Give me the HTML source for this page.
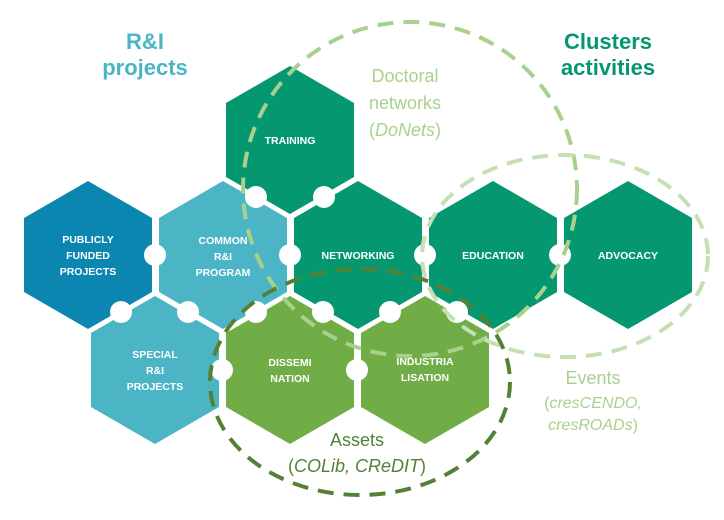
<!DOCTYPE html>
<html><head><meta charset="utf-8"><style>
html,body{margin:0;padding:0;background:#fff;}
svg{display:block;}
text{font-family:"Liberation Sans",sans-serif;}
.h{font-size:10.5px;font-weight:bold;fill:#fff;text-anchor:middle;}
</style></head><body>
<svg width="724" height="520" viewBox="0 0 724 520" xmlns="http://www.w3.org/2000/svg">
<defs>
<polygon id="hx" points="0,-74 64,-37 64,37 0,74 -64,37 -64,-37"/>
</defs>
<g>
<use href="#hx" x="290" y="140" fill="#05976f"/>
<use href="#hx" x="88" y="255" fill="#0b86b0"/>
<use href="#hx" x="223" y="255" fill="#4bb5c6"/>
<use href="#hx" x="358" y="255" fill="#05976f"/>
<use href="#hx" x="493" y="255" fill="#05976f"/>
<use href="#hx" x="628" y="255" fill="#05976f"/>
<use href="#hx" x="155" y="370" fill="#4bb5c6"/>
<use href="#hx" x="290" y="370" fill="#70ad47"/>
<use href="#hx" x="425" y="370" fill="#70ad47"/>
</g>
<g fill="#fff">
<circle cx="256" cy="197" r="11"/><circle cx="324" cy="197" r="11"/>
<circle cx="155" cy="255" r="11"/><circle cx="290" cy="255" r="11"/><circle cx="425" cy="255" r="11"/><circle cx="560" cy="255" r="11"/>
<circle cx="121" cy="312" r="11"/><circle cx="188" cy="312" r="11"/><circle cx="256" cy="312" r="11"/><circle cx="323" cy="312" r="11"/><circle cx="390" cy="312" r="11"/><circle cx="457" cy="312" r="11"/>
<circle cx="222" cy="370" r="11"/><circle cx="357" cy="370" r="11"/>
</g>
<g fill="none" stroke-width="4" stroke-dasharray="16 10">
<circle cx="410" cy="189" r="167" stroke="#a9d18e"/>
<ellipse cx="565" cy="256" rx="143" ry="101" stroke="#c5e0b4"/>
<ellipse cx="360" cy="382" rx="150" ry="113" stroke="#548235"/>
</g>
<g class="h">
<text x="290" y="144">TRAINING</text>
<text x="88" y="243">PUBLICLY</text><text x="88" y="259">FUNDED</text><text x="88" y="275">PROJECTS</text>
<text x="223" y="244">COMMON</text><text x="223" y="260">R&amp;I</text><text x="223" y="276">PROGRAM</text>
<text x="358" y="259">NETWORKING</text>
<text x="493" y="259">EDUCATION</text>
<text x="628" y="259">ADVOCACY</text>
<text x="155" y="358">SPECIAL</text><text x="155" y="374">R&amp;I</text><text x="155" y="390">PROJECTS</text>
<text x="290" y="366">DISSEMI</text><text x="290" y="382">NATION</text>
<text x="425" y="365">INDUSTRIA</text><text x="425" y="381">LISATION</text>
</g>
<g font-weight="bold" font-size="22" text-anchor="middle">
<text x="145" y="49" fill="#4bb5c6">R&amp;I</text>
<text x="145" y="75" fill="#4bb5c6">projects</text>
<text x="608" y="49" fill="#05976f">Clusters</text>
<text x="608" y="75" fill="#05976f">activities</text>
</g>
<g font-size="18" text-anchor="middle" fill="#a9d18e">
<text x="405" y="82">Doctoral</text>
<text x="405" y="109">networks</text>
<text x="405" y="136">(<tspan font-style="italic">DoNets</tspan>)</text>
</g>
<g text-anchor="middle" fill="#a9d18e">
<text x="593" y="384" font-size="18">Events</text>
<text x="593" y="408" font-size="16">(<tspan font-style="italic">cresCENDO,</tspan></text>
<text x="593" y="430" font-size="16"><tspan font-style="italic">cresROADs</tspan>)</text>
</g>
<g text-anchor="middle" fill="#548235">
<text x="357" y="446" font-size="18">Assets</text>
<text x="357" y="472" font-size="18">(<tspan font-style="italic">COLib, CReDIT</tspan>)</text>
</g>
</svg>
</body></html>
